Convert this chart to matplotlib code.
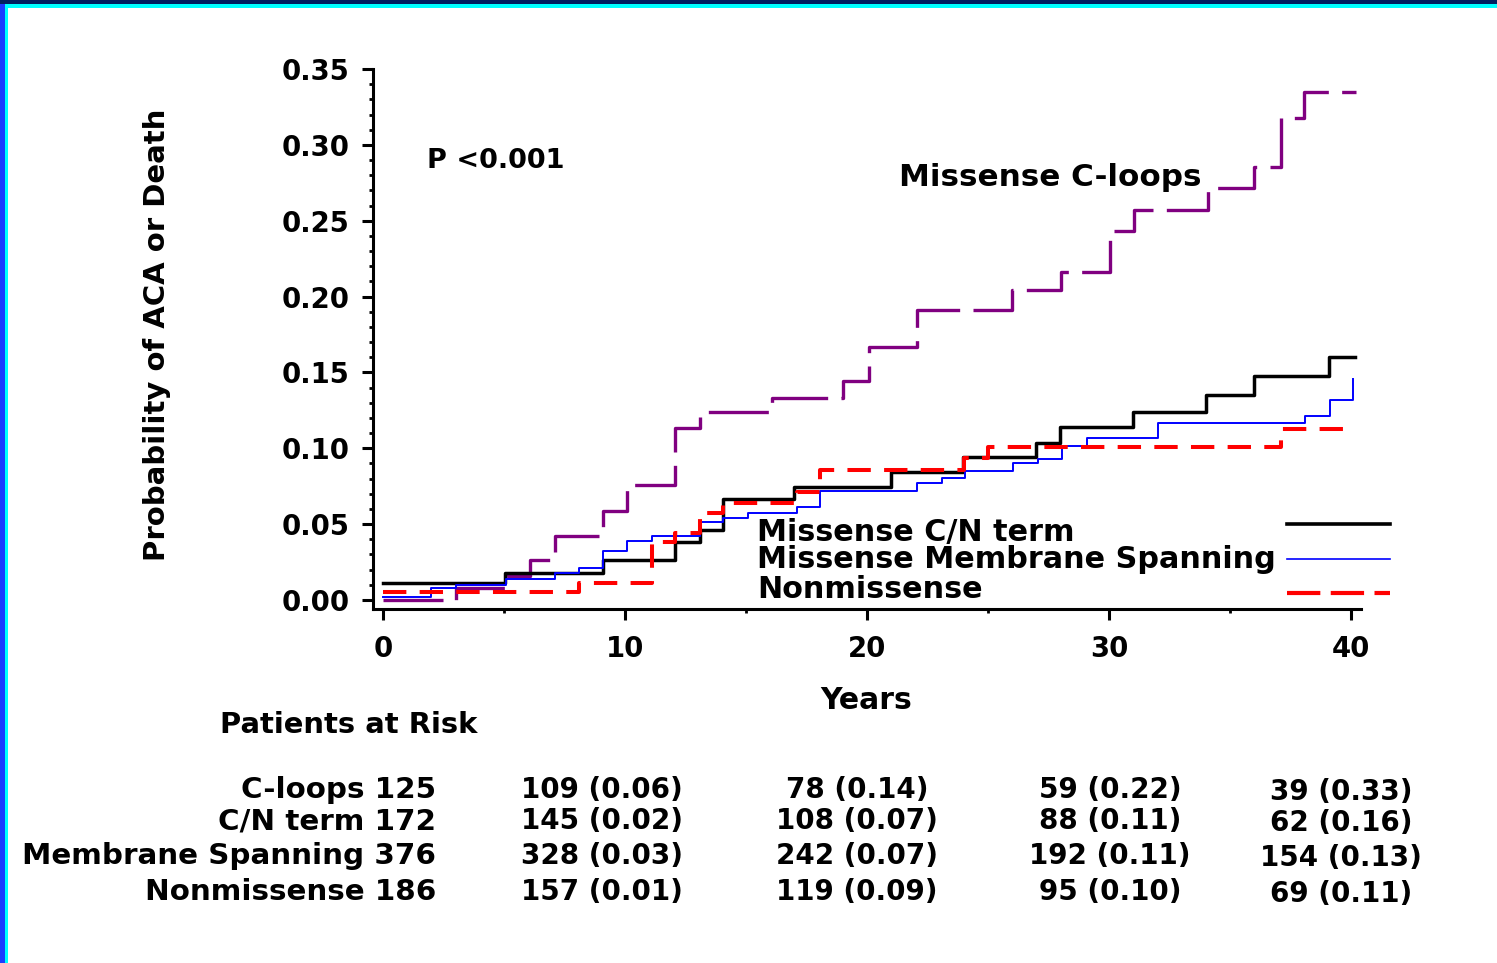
import matplotlib
matplotlib.use("Agg")
import matplotlib.pyplot as plt
from matplotlib.lines import Line2D
from matplotlib.patches import Rectangle
from matplotlib.ticker import MultipleLocator

plt.rcParams['font.family'] = ['DejaVu Sans']
plt.rcParams['font.weight'] = 'bold'

# ---------------- data ----------------
cloops_t = [0, 3.0, 5.1, 6.06, 7.1, 9.1, 10.07, 12.07, 13.1, 16.06, 19.0, 20.1,
            22.05, 26.0, 28.0, 30.05, 31.03, 34.1, 36.0, 37.1, 38.06, 40.2]
cloops_p = [0.0, 0.008, 0.016, 0.026, 0.042, 0.0586, 0.076, 0.113, 0.124, 0.133,
            0.144, 0.167, 0.191, 0.204, 0.216, 0.243, 0.257, 0.2715, 0.2856,
            0.3174, 0.3346, 0.3346]

cn_t = [0, 5.04, 9.1, 12.07, 13.1, 14.04, 17.0, 21.0, 23.98, 27.0, 27.97, 31.0,
        34.0, 36.0, 39.1, 40.17]
cn_p = [0.011, 0.0176, 0.026, 0.0385, 0.046, 0.0663, 0.0747, 0.0846, 0.094,
        0.1033, 0.1138, 0.124, 0.135, 0.1476, 0.1604, 0.1604]

mem_t = [0, 2.0, 3.0, 5.1, 7.1, 8.1, 9.1, 10.1, 11.1, 13.1, 14.06, 15.1, 17.1,
         18.06, 22.05, 23.1, 24.05, 26.05, 27.08, 28.05, 29.08, 32.04, 38.1,
         39.13, 40.1]
mem_p = [0.0022, 0.0077, 0.0099, 0.0138, 0.0176, 0.0213, 0.0325, 0.0391, 0.0424,
         0.0516, 0.0543, 0.0576, 0.0611, 0.072, 0.0769, 0.0806, 0.085, 0.090,
         0.093, 0.1015, 0.107, 0.1164, 0.1213, 0.132, 0.1454]

non_t = [0, 8.1, 11.1, 12.07, 13.1, 14.05, 17.1, 18.06, 24.0, 25.0, 37.1, 39.8]
non_p = [0.005, 0.011, 0.038, 0.044, 0.0576, 0.0637, 0.0714, 0.0857, 0.0934,
         0.101, 0.1125, 0.1125]

x_ticks = [0, 10, 20, 30, 40]
y_ticks = [0.00, 0.05, 0.10, 0.15, 0.20, 0.25, 0.30, 0.35]

legend_labels = ["Missense C/N term", "Missense Membrane Spanning", "Nonmissense"]
curve_label = "Missense C-loops"
p_text = "P <0.001"

risk_rows = ["C-loops 125", "C/N term 172", "Membrane Spanning 376", "Nonmissense 186"]
risk_cols = [
    ["109 (0.06)", "145 (0.02)", "328 (0.03)", "157 (0.01)"],
    ["78 (0.14)", "108 (0.07)", "242 (0.07)", "119 (0.09)"],
    ["59 (0.22)", "88 (0.11)", "192 (0.11)", "95 (0.10)"],
    ["39 (0.33)", "62 (0.16)", "154 (0.13)", "69 (0.11)"],
]

# ---------------- figure ----------------
W, H = 1497, 963
fig = plt.figure(figsize=(W / 100, H / 100), dpi=100)
fig.patch.set_facecolor('white')

def fx(px):
    return px / W

def fy(py):
    return 1 - py / H

# frame decorations
fig.add_artist(Rectangle((0, fy(4)), 1, 4 / H, transform=fig.transFigure,
                         facecolor='#00205f', edgecolor='none'))
fig.add_artist(Rectangle((fx(5), fy(8)), 1, 4 / H, transform=fig.transFigure,
                         facecolor='#00ffff', edgecolor='none'))
fig.add_artist(Rectangle((0, 0), 5 / W, fy(4), transform=fig.transFigure,
                         facecolor='#1a3cff', edgecolor='none'))
fig.add_artist(Rectangle((fx(5), 0), 3 / W, fy(4), transform=fig.transFigure,
                         facecolor='#00ffff', edgecolor='none'))

ax = fig.add_axes([fx(373), fy(609), (1361 - 373) / W, (609 - 69) / H])
ax.set_facecolor('none')

ax.plot(cloops_t, cloops_p, drawstyle='steps-post', color='#800080', lw=2.4,
        dashes=(18, 4))
ax.plot(cn_t, cn_p, drawstyle='steps-post', color='black', lw=2.5)
ax.plot(mem_t, mem_p, drawstyle='steps-post', color='#0000ff', lw=1.4)
ax.plot(non_t, non_p, drawstyle='steps-post', color='#ff0000', lw=2.9,
        dashes=(5.8, 3.3))

ax.set_xlim(-0.41, 40.41)
ax.set_ylim(-0.006, 0.35)
ax.set_xticks(x_ticks)
ax.set_xticklabels([str(v) for v in x_ticks])
ax.set_yticks(y_ticks)
ax.set_yticklabels([f"{v:.2f}" for v in y_ticks])
ax.xaxis.set_minor_locator(MultipleLocator(5))
ax.yaxis.set_minor_locator(MultipleLocator(0.01))

for s in ['top', 'right']:
    ax.spines[s].set_visible(False)
for s in ['left', 'bottom']:
    ax.spines[s].set_linewidth(2.2)

ax.tick_params(axis='both', which='major', direction='out', length=8, width=2.2,
               labelsize=19.8)
ax.tick_params(axis='both', which='minor', direction='out', length=3, width=2.0)
ax.tick_params(axis='x', which='major', pad=11)
ax.tick_params(axis='y', which='major', pad=9)
for lab in ax.get_xticklabels() + ax.get_yticklabels():
    lab.set_fontweight('bold')

# axis labels
fig.text(fx(157), fy(335), "Probability of ACA or Death", rotation=90,
         ha='center', va='center', fontsize=21, fontweight='bold')
fig.text(fx(866), fy(700), "Years", ha='center', va='center', fontsize=21.5,
         fontweight='bold')

# annotations
fig.text(fx(427), fy(161), p_text, ha='left', va='center', fontsize=19.5,
         fontweight='bold')
fig.text(fx(899), fy(178), curve_label, ha='left', va='center', fontsize=22.3,
         fontweight='bold')

# legend (text left, sample line right)
leg_text_y = [532, 560, 590]
leg_line_y = [524, 559, 593]
leg_styles = [dict(color='black', lw=2.6),
              dict(color='#0000ff', lw=1.2),
              dict(color='#ff0000', lw=3.0, dashes=(8, 2.5))]
for lab, ty, ly, st in zip(legend_labels, leg_text_y, leg_line_y, leg_styles):
    fig.text(fx(757), fy(ty), lab, ha='left', va='center', fontsize=21.8,
             fontweight='bold')
    fig.add_artist(Line2D([fx(1287), fx(1390)], [fy(ly), fy(ly)],
                          transform=fig.transFigure, **st))

# risk table
fig.text(fx(220), fy(725), "Patients at Risk", ha='left', va='center',
         fontsize=20.9, fontweight='bold')
row_y = [790, 821, 856, 892]
col_x = [602, 857, 1110, 1341]
for lab, ry in zip(risk_rows, row_y):
    fig.text(fx(436), fy(ry), lab, ha='right', va='center', fontsize=21.2,
             fontweight='bold')
for cx, col, dy in zip(col_x, risk_cols, [0, 0, 0, 2]):
    for val, ry in zip(col, row_y):
        fig.text(fx(cx), fy(ry + dy), val, ha='center', va='center',
                 fontsize=20, fontweight='bold')

fig.savefig("out.png", dpi=100, facecolor='white')
